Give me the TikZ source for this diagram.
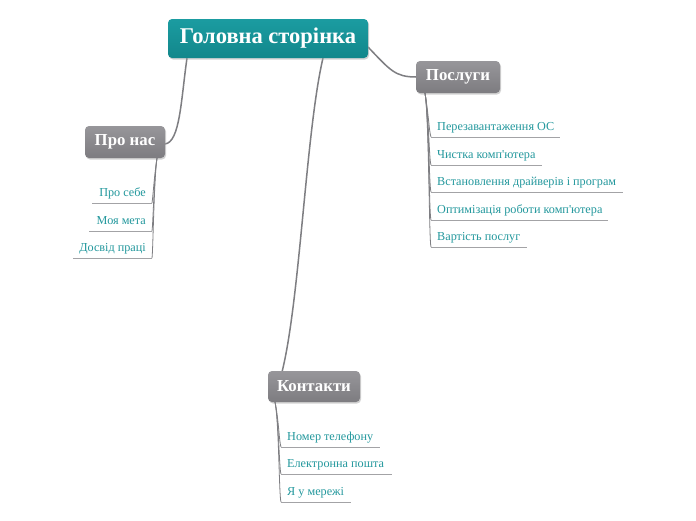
\documentclass[tikz,border=0pt]{standalone}
\usepackage{fontspec}
\setmainfont{Liberation Serif}
\usetikzlibrary{shadows}
\definecolor{tealtop}{HTML}{1B9CA1}
\definecolor{tealbot}{HTML}{12878B}
\definecolor{graytop}{HTML}{97969A}
\definecolor{graybot}{HTML}{7D7C80}
\definecolor{leafteal}{HTML}{23989D}
\definecolor{conn}{HTML}{7E7E82}
\definecolor{uline}{HTML}{A3A3A6}
\newcommand{\apos}{\textquotesingle}
\tikzset{
  rootbox/.style={rounded corners=4pt, top color=tealtop, bottom color=tealbot,
    text=white, font=\bfseries\fontsize{22.5}{26}\selectfont, minimum width=200pt, minimum height=39pt,
    inner sep=0pt, drop shadow={shadow xshift=1pt, shadow yshift=-1.5pt, fill=black!35, opacity=0.5}},
  topicbox/.style={rounded corners=4pt, top color=graytop, bottom color=graybot,
    text=white, font=\bfseries\fontsize{16.8}{19}\selectfont, minimum height=32pt,
    inner sep=0pt, drop shadow={shadow xshift=1pt, shadow yshift=-1.5pt, fill=black!35, opacity=0.5}},
  leaf/.style={text=leafteal, font=\fontsize{12.2}{14}\selectfont, inner sep=0pt},
  mainconn/.style={draw=conn, line width=1.5pt},
  subconn/.style={draw=conn, line width=0.8pt},
  ul/.style={draw=uline, line width=0.8pt},
}
\begin{document}
\begin{tikzpicture}[x=1pt,y=-1pt]
\useasboundingbox[fill=white] (0,0) rectangle (696,520);
% connectors from root
\coordinate (rA) at (187,58);
\coordinate (rB) at (323,58);
\coordinate (rC) at (368,47);
\coordinate (pnR) at (165,144);
\coordinate (poL) at (416,77);
\coordinate (koT) at (282,372);
\draw[mainconn] (rA) .. controls (181,100) and (180,142) .. (pnR);
\draw[mainconn] (rB) .. controls (306,130) and (300,300) .. (koT);
\draw[mainconn] (rC) .. controls (390,70) and (395,77) .. (poL);
% nodes
\node[rootbox, minimum width=200pt] (root) at (268,38.5) {Головна сторінка};
\node[topicbox, minimum width=80pt] (pronas) at (125,142) {Про нас};
\node[topicbox, minimum width=84pt] (posl) at (458,77) {Послуги};
\node[topicbox, minimum width=92pt, minimum height=31pt] (kont) at (314,386.5) {Контакти};

% Послуги leaves
\coordinate (pt) at (425,93);
\foreach \i/\y/\xe/\t in {1/137/560/{Перезавантаження ОС},2/165/542/{Чистка комп\apos ютера},3/192/623/{Встановлення драйверів і програм},4/220/608/{Оптимізація роботи комп\apos ютера},5/247/527/{Вартість послуг}}{
  \coordinate (pa\i) at (431,\y);
  \coordinate (pb\i) at (\xe,\y);
  \node[leaf, anchor=base west] (pl\i) at (437,\y-6.5) {\t};
  \draw[subconn] (pt) .. controls +(4,25) and +(-2,-6) .. (pa\i);
  \draw[ul] (pa\i) -- (pb\i);
}

% Про нас leaves
\coordinate (nt) at (157,158);
\foreach \i/\y/\xs/\t in {1/203/92/{Про себе},2/231/89/{Моя мета},3/258/73/{Досвід праці}}{
  \coordinate (na\i) at (152,\y);
  \coordinate (nb\i) at (\xs,\y);
  \node[leaf, anchor=base east] (nl\i) at (146,\y-7) {\t};
  \draw[subconn] (nt) .. controls +(-3,20) and +(1,-6) .. (na\i);
  \draw[ul] (na\i) -- (nb\i);
}

% Контакти leaves
\coordinate (kt) at (275,402);
\foreach \i/\y/\xe/\t in {1/447/380/{Номер телефону},2/474/392/{Електронна пошта},3/502/351/{Я у мережі}}{
  \coordinate (ka\i) at (281,\y);
  \coordinate (kb\i) at (\xe,\y);
  \node[leaf, anchor=base west] (kl\i) at (287,\y-7) {\t};
  \draw[subconn] (kt) .. controls +(4,20) and +(-2,-6) .. (ka\i);
  \draw[ul] (ka\i) -- (kb\i);
}
\end{tikzpicture}
\end{document}
